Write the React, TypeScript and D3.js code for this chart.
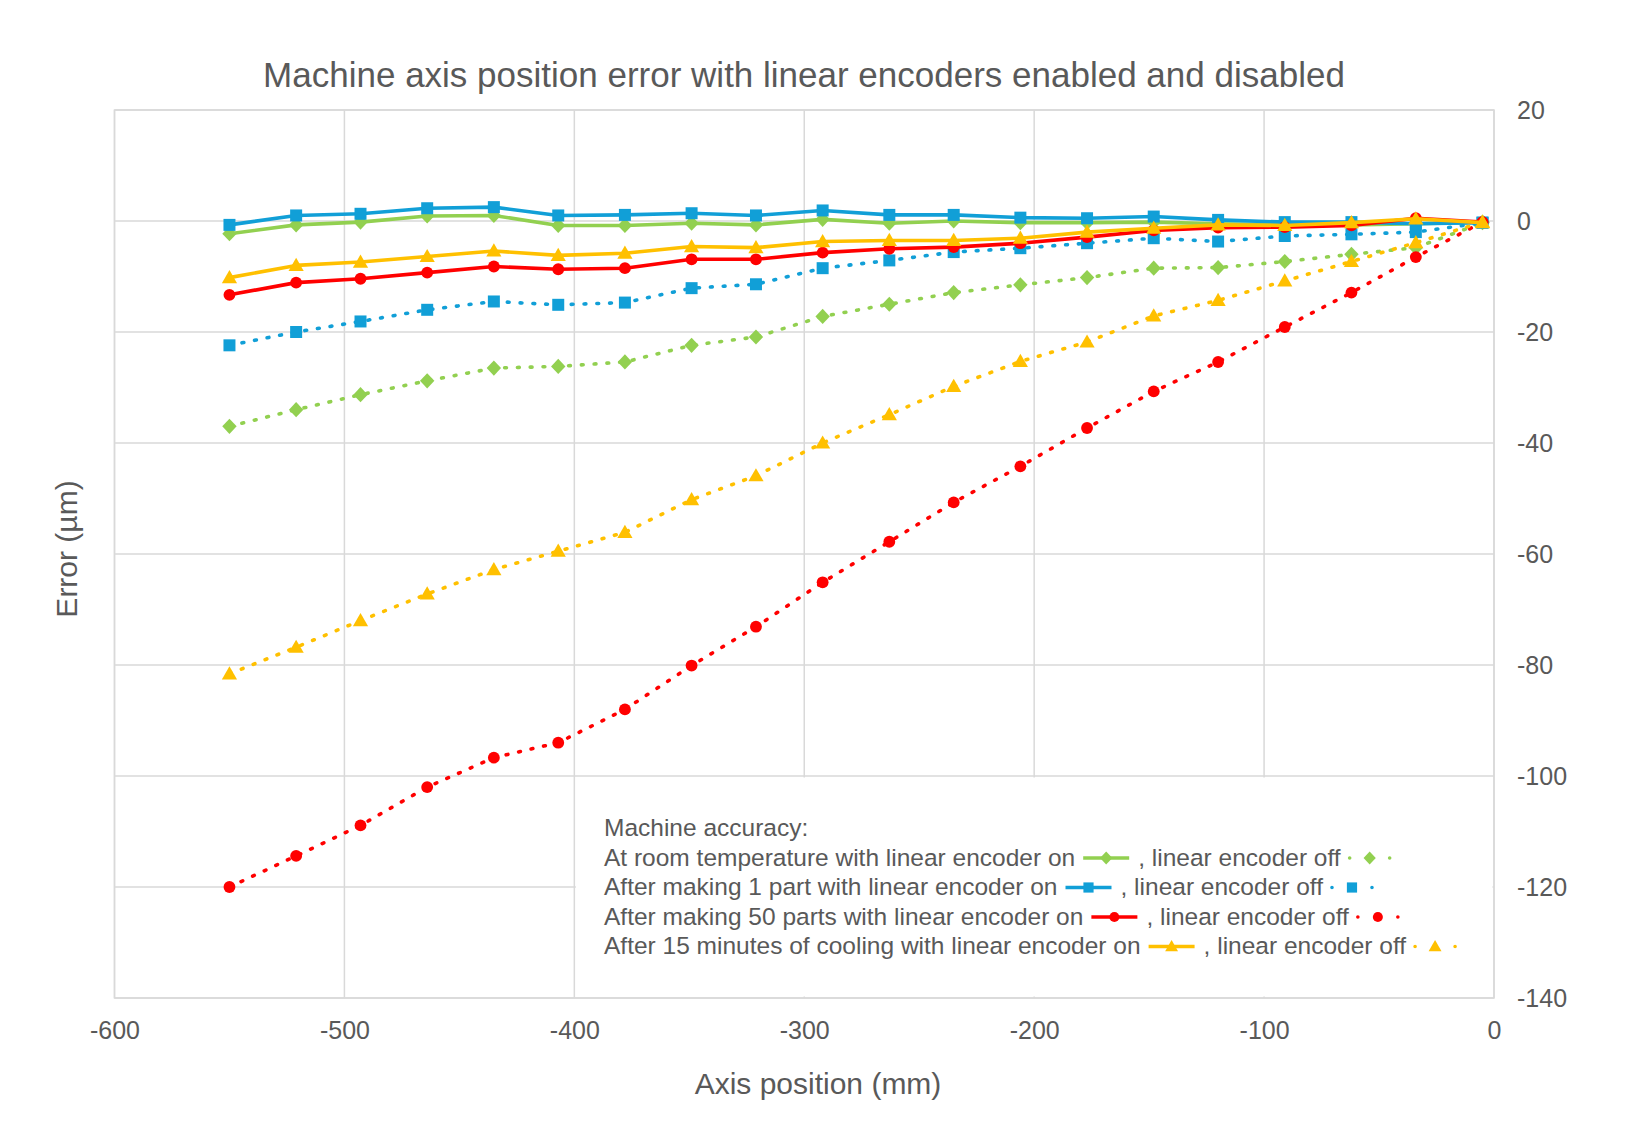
import React, { useRef, useEffect } from 'react';
import * as d3 from 'd3';

// axis positions (mm)
const positions = [-550, -521, -493, -464, -435, -407, -378, -349, -321, -292, -263, -235, -206, -177, -148, -120, -91, -62, -34, -5];

// error (µm)
const roomOn = [-2.3, -0.7, -0.2, 0.9, 1.0, -0.8, -0.8, -0.4, -0.7, 0.3, -0.4, 0, -0.3, -0.3, -0.2, -0.5, -0.7, -0.7, -0.5, -0.2];
const roomOff = [-37.0, -34.0, -31.3, -28.8, -26.5, -26.2, -25.4, -22.4, -20.9, -17.2, -15.0, -12.9, -11.5, -10.2, -8.5, -8.4, -7.3, -6.0, -4.8, -0.3];
const onePartOn = [-0.7, 1.0, 1.3, 2.3, 2.5, 1.0, 1.1, 1.4, 1.0, 1.9, 1.1, 1.1, 0.6, 0.5, 0.8, 0.2, -0.2, -0.2, -0.5, -0.3];
const onePartOff = [-22.4, -20.0, -18.1, -16.0, -14.5, -15.1, -14.7, -12.1, -11.4, -8.5, -7.1, -5.6, -4.9, -4.0, -3.1, -3.7, -2.7, -2.4, -2.0, -0.3];
const fiftyOn = [-13.3, -11.1, -10.4, -9.3, -8.2, -8.7, -8.5, -6.9, -6.9, -5.7, -5.0, -4.7, -4.0, -2.9, -1.7, -1.2, -1.1, -0.8, 0.5, -0.2];
const fiftyOff = [-120.0, -114.4, -108.9, -102.0, -96.7, -94.0, -88.0, -80.1, -73.1, -65.1, -57.8, -50.7, -44.2, -37.3, -30.7, -25.4, -19.1, -12.9, -6.5, -0.2];
const coolOn = [-10.2, -8.0, -7.4, -6.4, -5.4, -6.2, -5.8, -4.6, -4.8, -3.7, -3.5, -3.5, -3.1, -2.0, -1.3, -0.7, -0.8, -0.3, 0.4, -0.3];
const coolOff = [-81.6, -76.8, -72.0, -67.2, -62.8, -59.5, -56.1, -50.2, -45.9, -40.0, -34.9, -29.8, -25.3, -21.8, -17.1, -14.3, -10.8, -7.3, -3.9, -0.2];

const xTicks = [-600, -500, -400, -300, -200, -100, 0];
const yTicks = [20, 0, -20, -40, -60, -80, -100, -120, -140];

const legendTitle = 'Machine accuracy:';
const legendLabels = [
  'At room temperature with linear encoder on',
  'After making 1 part with linear encoder on',
  'After making 50 parts with linear encoder on',
  'After 15 minutes of cooling with linear encoder on',
];
const offLabel = ', linear encoder off';

type Shape = 'diamond' | 'square' | 'circle' | 'triangle';

const groups: { color: string; shape: Shape; on: number[]; off: number[] }[] = [
  { color: '#92D050', shape: 'diamond', on: roomOn, off: roomOff },
  { color: '#119FD7', shape: 'square', on: onePartOn, off: onePartOff },
  { color: '#FF0000', shape: 'circle', on: fiftyOn, off: fiftyOff },
  { color: '#FFC000', shape: 'triangle', on: coolOn, off: coolOff },
];

const W = 1626;
const H = 1138;
const FONT = '"Liberation Sans", Arial, Helvetica, sans-serif';
const TEXT = '#595959';
const GRID = '#d9d9d9';

const markerPath = (shape: Shape) => {
  switch (shape) {
    case 'diamond': return 'M0,-7.6L7.2,0L0,7.6L-7.2,0Z';
    case 'square': return 'M-6,-6H6V6H-6Z';
    case 'triangle': return 'M0,-7.6L7.6,5.6L-7.6,5.6Z';
    default: return d3.symbol(d3.symbolCircle, 110)() || '';
  }
};

export default function App() {
  const ref = useRef<SVGSVGElement | null>(null);

  useEffect(() => {
    if (!ref.current) return;
    const svg = d3.select(ref.current);
    svg.selectAll('*').remove();

    const x = d3.scaleLinear().domain([-600, 0]).range([114.5, 1494]);
    const y = d3.scaleLinear().domain([-140, 20]).range([998, 110]);

    svg.append('rect').attr('width', W).attr('height', H).attr('fill', '#fff');

    // gridlines
    const grid = svg.append('g');
    grid.selectAll('.vg').data(xTicks).join('line')
      .attr('x1', d => x(d)).attr('x2', d => x(d))
      .attr('y1', y(20)).attr('y2', y(-140))
      .attr('stroke', GRID).attr('stroke-width', 1.5);
    grid.selectAll('.hg').data(yTicks).join('line')
      .attr('x1', x(-600)).attr('x2', x(0))
      .attr('y1', d => y(d)).attr('y2', d => y(d))
      .attr('stroke', GRID).attr('stroke-width', 1.5);
    grid.append('rect')
      .attr('x', x(-600)).attr('y', y(20))
      .attr('width', x(0) - x(-600)).attr('height', y(-140) - y(20))
      .attr('fill', 'none').attr('stroke', GRID).attr('stroke-width', 1.5);

    // axes labels
    const xAxis = svg.append('g')
      .attr('transform', `translate(0,${y(-140)})`)
      .call(d3.axisBottom(x).tickValues(xTicks).tickSize(0).tickPadding(23).tickFormat(d => String(d)));
    const yAxis = svg.append('g')
      .attr('transform', `translate(${x(0)},0)`)
      .call(d3.axisRight(y).tickValues(yTicks).tickSize(0).tickPadding(23).tickFormat(d => String(d)));
    [xAxis, yAxis].forEach(a => {
      a.select('.domain').remove();
      a.selectAll('.tick text')
        .attr('fill', TEXT).style('font-size', '25px').style('font-family', FONT);
    });

    // series
    const line = d3.line<number>().x((_, i) => x(positions[i])).y(d => y(d));
    groups.forEach(g => {
      [{ vals: g.on, dotted: false }, { vals: g.off, dotted: true }].forEach(s => {
        svg.append('path')
          .datum(s.vals)
          .attr('d', line)
          .attr('fill', 'none')
          .attr('stroke', g.color)
          .attr('stroke-width', 3.6)
          .attr('stroke-linecap', s.dotted ? 'round' : 'butt')
          .attr('stroke-linejoin', 'round')
          .attr('stroke-dasharray', s.dotted ? '1.8 11' : null);
        svg.append('g').selectAll('path').data(s.vals).join('path')
          .attr('d', markerPath(g.shape))
          .attr('transform', (d, i) => `translate(${x(positions[i])},${y(d)})`)
          .attr('fill', g.color);
      });
    });

    // legend box
    svg.append('rect')
      .attr('x', x(-400) + 1.5).attr('y', y(-100) + 1.5)
      .attr('width', x(0) - x(-400) - 3).attr('height', y(-140) - y(-100) - 3)
      .attr('fill', '#fff');

    const lg = svg.append('g').style('font-family', FONT).style('font-size', '24.5px').attr('fill', TEXT);
    const lx = 604;
    const rowY = (i: number) => 836 + i * 29.5;
    lg.append('text').attr('x', lx).attr('y', rowY(0)).text(legendTitle);

    legendLabels.forEach((label, i) => {
      const g = groups[i];
      const by = rowY(i + 1);
      const sy = by - 7.5;
      const t1 = lg.append('text').attr('x', lx).attr('y', by).text(label);
      const w1 = (t1.node() as SVGTextElement).getComputedTextLength();
      const s1 = lx + w1 + 8;
      lg.append('line').attr('x1', s1).attr('x2', s1 + 46).attr('y1', sy).attr('y2', sy)
        .attr('stroke', g.color).attr('stroke-width', 3.6);
      lg.append('path').attr('d', markerPath(g.shape)).attr('transform', `translate(${s1 + 23},${sy}) scale(0.85)`).attr('fill', g.color);
      const t2x = s1 + 46 + 9;
      const t2 = lg.append('text').attr('x', t2x).attr('y', by).text(offLabel);
      const w2 = (t2.node() as SVGTextElement).getComputedTextLength();
      const s2 = t2x + w2 + 6;
      lg.append('line').attr('x1', s2 + 3).attr('x2', s2 + 43).attr('y1', sy).attr('y2', sy)
        .attr('stroke', g.color).attr('stroke-width', 3.6)
        .attr('stroke-linecap', 'round').attr('stroke-dasharray', '0.01 19.99');
      lg.append('path').attr('d', markerPath(g.shape)).attr('transform', `translate(${s2 + 23},${sy}) scale(0.85)`).attr('fill', g.color);
    });

    // titles
    svg.append('text')
      .attr('x', 804).attr('y', 87)
      .attr('text-anchor', 'middle')
      .style('font-family', FONT).style('font-size', '35px').attr('fill', TEXT)
      .text('Machine axis position error with linear encoders enabled and disabled');
    svg.append('text')
      .attr('x', 818).attr('y', 1094)
      .attr('text-anchor', 'middle')
      .style('font-family', FONT).style('font-size', '30px').attr('fill', TEXT)
      .text('Axis position (mm)');
    svg.append('text')
      .attr('transform', 'translate(77,549) rotate(-90)')
      .attr('text-anchor', 'middle')
      .style('font-family', FONT).style('font-size', '30px').attr('fill', TEXT)
      .text('Error (µm)');
  }, []);

  return (
    <svg
      ref={ref}
      width={W}
      height={H}
      style={{ position: 'absolute', left: 0, top: 0, display: 'block' }}
    />
  );
}
